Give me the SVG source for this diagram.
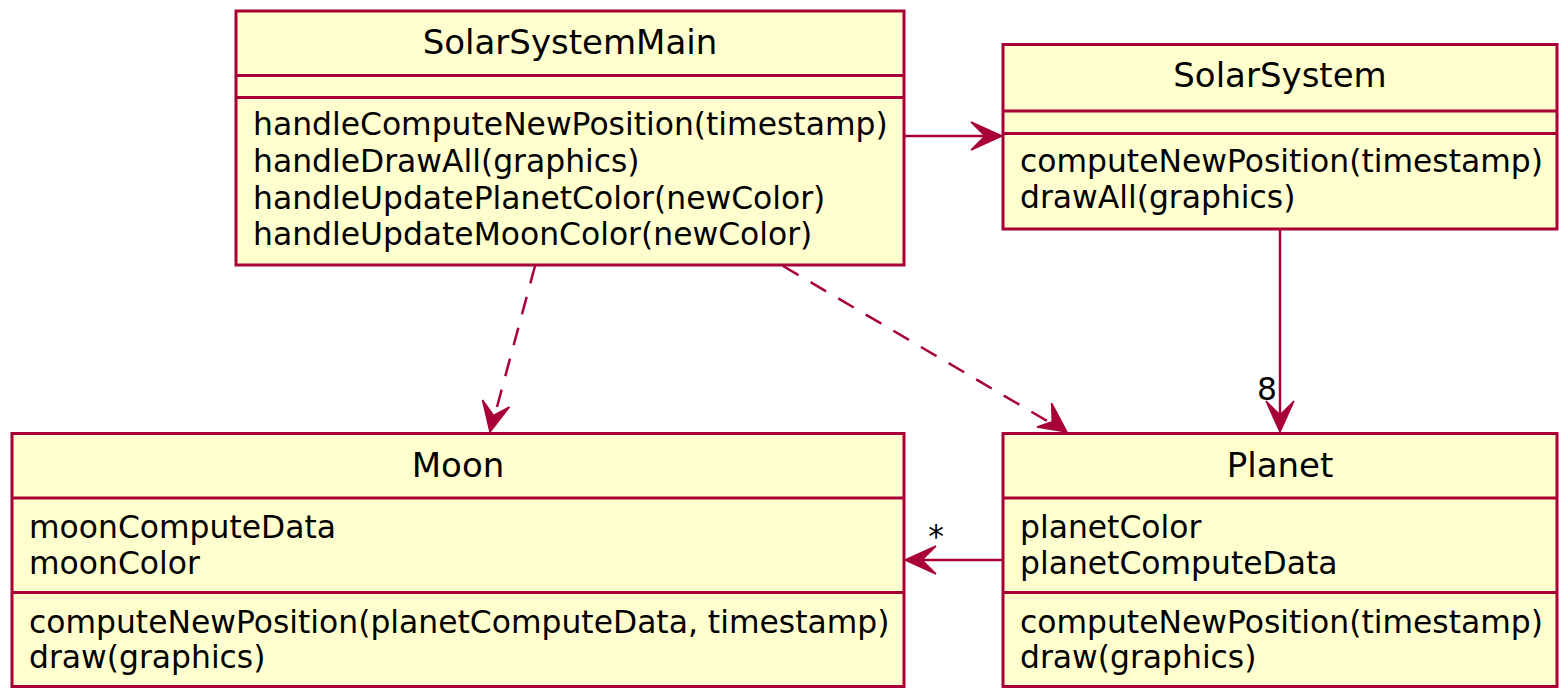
<svg xmlns="http://www.w3.org/2000/svg" width="1559" height="688" viewBox="0 0 1559 688">
<defs>
<style>
.box{fill:#FEFECE;stroke:#A80036;stroke-width:3}
.sep{stroke:#A80036;stroke-width:3}
.title{font-family:"DejaVu Sans",sans-serif;font-size:34px;fill:#000;text-anchor:middle}
.mem{font-family:"DejaVu Sans",sans-serif;font-size:31.4px;fill:#000}
.ln{stroke:#A80036;stroke-width:2.5;fill:none}
.dash{stroke-dasharray:18,14}
.ah{fill:#A80036;stroke:#A80036;stroke-width:1.5}
</style>
</defs>
<rect width="1559" height="688" fill="#fff"/>
<g id="connectors">
<line class="ln" x1="904" y1="136" x2="990" y2="136"/>
<polygon class="ah" points="1002,136 971,122 985,136 971,150"/>
<line class="ln" x1="1280" y1="229" x2="1280" y2="420"/>
<polygon class="ah" points="1280,432 1266,401 1280,415 1294,401"/>
<text class="mem" x="1277" y="400" text-anchor="end">8</text>
<line class="ln" x1="1003" y1="560" x2="918" y2="560"/>
<polygon class="ah" points="905,560 936,546 922,560 936,574"/>
<text class="mem" x="936" y="547" text-anchor="middle">*</text>
<line class="ln dash" x1="535" y1="266" x2="494" y2="418"/>
<polygon class="ah" points="490,432 482.5,400 493.5,415.5 509.5,407"/>
<line class="ln dash" x1="783" y1="266" x2="1054" y2="425"/>
<polygon class="ah" points="1067,432 1051.6,403 1052.2,421.8 1037,427"/>
</g>
<g id="SolarSystemMain">
<rect class="box" x="236" y="11" width="668" height="254"/>
<line class="sep" x1="236" y1="75.5" x2="904" y2="75.5"/>
<line class="sep" x1="236" y1="97.5" x2="904" y2="97.5"/>
<text class="title" x="570" y="54">SolarSystemMain</text>
<text class="mem" x="253" y="135">handleComputeNewPosition(timestamp)</text>
<text class="mem" x="253" y="172">handleDrawAll(graphics)</text>
<text class="mem" x="253" y="208.5">handleUpdatePlanetColor(newColor)</text>
<text class="mem" x="253" y="245">handleUpdateMoonColor(newColor)</text>
</g>
<g id="SolarSystem">
<rect class="box" x="1003" y="44.5" width="554" height="184.5"/>
<line class="sep" x1="1003" y1="111" x2="1557" y2="111"/>
<line class="sep" x1="1003" y1="133.5" x2="1557" y2="133.5"/>
<text class="title" x="1280" y="87">SolarSystem</text>
<text class="mem" x="1020" y="171.5">computeNewPosition(timestamp)</text>
<text class="mem" x="1020" y="208">drawAll(graphics)</text>
</g>
<g id="Moon">
<rect class="box" x="12" y="433.5" width="892" height="253"/>
<line class="sep" x1="12" y1="498" x2="904" y2="498"/>
<line class="sep" x1="12" y1="592.5" x2="904" y2="592.5"/>
<text class="title" x="458" y="477">Moon</text>
<text class="mem" x="29" y="538">moonComputeData</text>
<text class="mem" x="29" y="574">moonColor</text>
<text class="mem" x="29" y="633">computeNewPosition(planetComputeData, timestamp)</text>
<text class="mem" x="29" y="668">draw(graphics)</text>
</g>
<g id="Planet">
<rect class="box" x="1003" y="433.5" width="554" height="253"/>
<line class="sep" x1="1003" y1="498" x2="1557" y2="498"/>
<line class="sep" x1="1003" y1="592.5" x2="1557" y2="592.5"/>
<text class="title" x="1280" y="477">Planet</text>
<text class="mem" x="1020" y="538">planetColor</text>
<text class="mem" x="1020" y="574">planetComputeData</text>
<text class="mem" x="1020" y="633">computeNewPosition(timestamp)</text>
<text class="mem" x="1020" y="668">draw(graphics)</text>
</g>
</svg>
